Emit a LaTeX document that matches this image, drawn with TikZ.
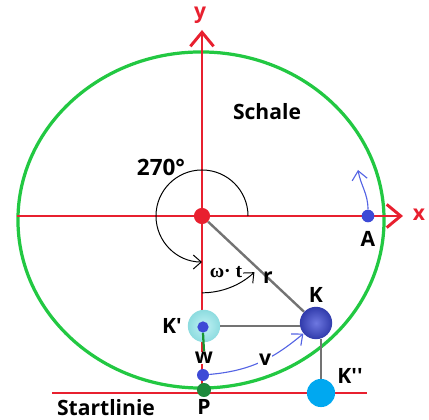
\documentclass[tikz,border=0pt]{standalone}
\usepackage{fontspec}
\setmainfont{Open Sans}
\newfontfamily\omegafont{Liberation Serif}
\usetikzlibrary{positioning,arrows.meta}
\definecolor{axisred}{HTML}{E8202F}
\definecolor{shellgreen}{HTML}{22C842}
\definecolor{ballblue}{HTML}{3D4AD6}
\definecolor{pathblue}{HTML}{5464E4}
\definecolor{ghostcyan}{HTML}{A6ECF0}
\definecolor{skyblue}{HTML}{00A8F0}
\definecolor{dotgreen}{HTML}{1E8A3C}

\begin{document}
\begin{tikzpicture}[
x=0.025cm, y=0.025cm,
txt/.style={font=\fontsize{15}{18}\selectfont\bfseries, inner sep=1pt},
axis/.style={axisred, line width=2.1pt, -{Straight Barb[length=3.5mm, width=5.8mm]}},
rod/.style={draw=black!55, line width=1.7pt},
blob/.style={circle, inner sep=0pt, fill=ballblue, minimum size=8.5pt},
ball/.style={circle, inner sep=0pt, minimum size=23pt},
turn/.style={black, line width=0.7pt, -{Straight Barb[length=2mm, width=3.5mm]}},
motion/.style={pathblue, line width=0.8pt, -{Straight Barb[length=2.2mm, width=3.8mm]}}
]
\useasboundingbox (0,0) rectangle (429,420);
\coordinate (shell) at (201,200);
\draw[shellgreen, line width=2.3pt] (shell) ellipse [x radius=4.575cm, y radius=4.2cm];

% axes and start line
\coordinate (yBottom) at (202,30);
\coordinate (yTop) at (202,390);
\coordinate (xLeft) at (17,204);
\coordinate (xRight) at (403,204);
\coordinate (startL) at (52,27);
\coordinate (startR) at (367,27);
\draw[axis] (yBottom) -- (yTop);
\draw[axis] (xLeft) -- (xRight);
\draw[axisred, line width=1.2pt] (startL) -- (startR);

% points and balls
\node[blob, fill=axisred, minimum size=11.5pt] (origin) at (202,204) {};
\node[blob, minimum size=9pt] (dotA) at (368,204) {};
\node[blob, fill=dotgreen, minimum size=10pt] (dotP) at (204,30) {};
\node[blob] (dotW) at (203,45) {};
\node[ball, inner color=ballblue!75!white, outer color=ballblue!80!black] (ballK) at (316,97) {};
\node[ball, inner color=ghostcyan!70!white, outer color=ghostcyan!85!teal] (ballKp) at (204,94) {};
\node[blob, minimum size=8pt] (innerKp) at (203,93) {};
\node[ball, fill=skyblue, minimum size=20pt] (ballKpp) at (321,27) {};

% rods
\draw[rod] (origin) -- (ballK);
\draw[rod] (ballKp.east) -- (ballKp.east -| ballK.west);
\draw[rod] (ballKpp.north) -- (ballKpp.north |- ballK.south);

% labels
\node[txt] (lblSchale) at (267,308) {Schale};
\node[txt, font=\fontsize{16}{19}\selectfont\bfseries] (lbl270) at (161,253) {270°};
\node[txt] (lblR) at (268,142) {r};
\node[font=\omegafont\fontsize{14}{16}\selectfont\bfseries, inner sep=1pt] (lblOmega) at (226,148) {ω· t};
\node[txt, text=axisred] (lblY) at (200,405) {y};
\node[txt, text=axisred] (lblX) at (419,205) {x};
\node[txt, above=2pt of ballK] (lblK) {K};
\node[txt, left=3pt of ballKp] (lblKp) {K\textquotesingle};
\node[txt] (lblKpp) at (350,44) {K\textquotesingle\textquotesingle};
\node[txt, fill=white, inner sep=0.5pt] (lblW) at (204,62) {w};
\node[txt, below=5pt of dotA] (lblA) {A};
\node[txt, below=0.5pt of dotP] (lblP) {P};
\node[txt] (lblStart) at (106,12) {Startlinie};

% angles and motion
\draw[shellgreen!75!black, line width=1.6pt] (innerKp.south) -- (lblW.north);
\draw[turn] ([shift={(0:1.15cm)}]origin.center) arc[start angle=0, end angle=270, radius=1.15cm];
\draw[turn] ([shift={(-90:1.92cm)}]origin.center) arc[start angle=-90, end angle=-47, radius=1.92cm];
\coordinate (swingTip) at (358,250);
\draw[motion] (dotA) to[out=90, in=-80] (swingTip);
\draw[motion] (dotW) to[out=5, in=220] (ballK);
\node[txt, fill=white, inner sep=0.5pt] (lblV) at (265,60) {v};
\end{tikzpicture}
\end{document}
